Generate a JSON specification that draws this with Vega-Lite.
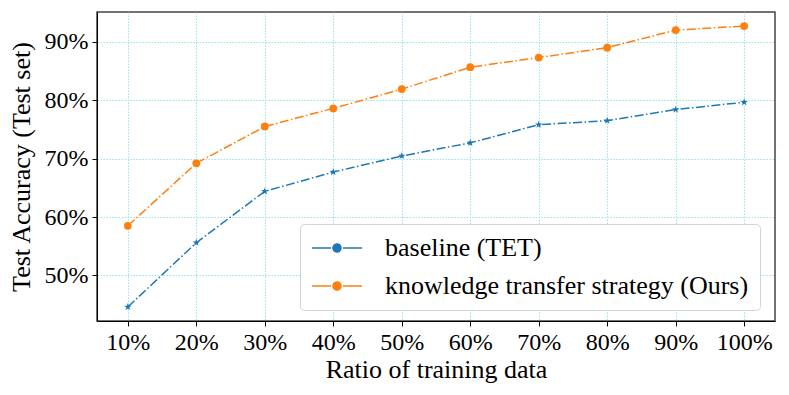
{
  "$schema": "https://vega.github.io/schema/vega-lite/v6.json",
  "width": 678,
  "height": 309,
  "autosize": {"type": "none"},
  "padding": {"left": 97, "top": 12, "right": 14, "bottom": 74},
  "config": {
    "font": "Liberation Serif",
    "view": {"stroke": "#444", "strokeWidth": 1.5},
    "axis": {
      "labelFontSize": 24,
      "titleFontSize": 26,
      "labelColor": "black",
      "titleColor": "black",
      "titleFontWeight": "normal",
      "domainColor": "black",
      "tickColor": "black",
      "tickSize": 5,
      "gridColor": "#8fe6ec",
      "gridDash": [1.5, 1.5]
    }
  },
  "data": {
    "values": [
      {"ratio": 0.1, "acc": 0.446, "series": "baseline (TET)"},
      {"ratio": 0.2, "acc": 0.556, "series": "baseline (TET)"},
      {"ratio": 0.3, "acc": 0.644, "series": "baseline (TET)"},
      {"ratio": 0.4, "acc": 0.677, "series": "baseline (TET)"},
      {"ratio": 0.5, "acc": 0.7045, "series": "baseline (TET)"},
      {"ratio": 0.6, "acc": 0.727, "series": "baseline (TET)"},
      {"ratio": 0.7, "acc": 0.758, "series": "baseline (TET)"},
      {"ratio": 0.8, "acc": 0.765, "series": "baseline (TET)"},
      {"ratio": 0.9, "acc": 0.784, "series": "baseline (TET)"},
      {"ratio": 1.0, "acc": 0.7965, "series": "baseline (TET)"},
      {"ratio": 0.1, "acc": 0.585, "series": "knowledge transfer strategy (Ours)"},
      {"ratio": 0.2, "acc": 0.692, "series": "knowledge transfer strategy (Ours)"},
      {"ratio": 0.3, "acc": 0.755, "series": "knowledge transfer strategy (Ours)"},
      {"ratio": 0.4, "acc": 0.786, "series": "knowledge transfer strategy (Ours)"},
      {"ratio": 0.5, "acc": 0.819, "series": "knowledge transfer strategy (Ours)"},
      {"ratio": 0.6, "acc": 0.8565, "series": "knowledge transfer strategy (Ours)"},
      {"ratio": 0.7, "acc": 0.873, "series": "knowledge transfer strategy (Ours)"},
      {"ratio": 0.8, "acc": 0.890, "series": "knowledge transfer strategy (Ours)"},
      {"ratio": 0.9, "acc": 0.920, "series": "knowledge transfer strategy (Ours)"},
      {"ratio": 1.0, "acc": 0.927, "series": "knowledge transfer strategy (Ours)"}
    ]
  },
  "layer": [
    {
      "mark": {"type": "line", "strokeWidth": 1.5, "strokeDash": [9, 2.5, 1.5, 2.5]},
      "encoding": {
        "x": {
          "field": "ratio",
          "type": "quantitative",
          "scale": {"domain": [0.055, 1.045], "nice": false, "zero": false},
          "axis": {
            "title": "Ratio of training data",
            "values": [0.1, 0.2, 0.3, 0.4, 0.5, 0.6, 0.7, 0.8, 0.9, 1.0],
            "format": ".0%",
            "labelPadding": 4,
            "titlePadding": 2
          }
        },
        "y": {
          "field": "acc",
          "type": "quantitative",
          "scale": {"domain": [0.422, 0.951], "nice": false, "zero": false},
          "axis": {
            "title": "Test Accuracy (Test set)",
            "values": [0.5, 0.6, 0.7, 0.8, 0.9],
            "format": ".0%",
            "labelPadding": 4,
            "titlePadding": 10
          }
        },
        "color": {
          "field": "series",
          "type": "nominal",
          "scale": {"domain": ["baseline (TET)", "knowledge transfer strategy (Ours)"], "range": ["#1f77b4", "#ff7f0e"]},
          "legend": {
            "title": null,
            "orient": "none",
            "legendX": 203,
            "legendY": 212,
            "padding": 11,
            "fillColor": "white",
            "strokeColor": "#d4d4d4",
            "cornerRadius": 4,
            "labelFontSize": 26,
            "labelColor": "black",
            "labelLimit": 600,
            "labelOffset": 48,
            "rowPadding": 12,
            "symbolType": "M-1,0H0.583M1.583,0H3.167M0.75,0A0.333,0.333 0 1,0 1.417,0A0.333,0.333 0 1,0 0.75,0Z",
            "symbolSize": 576,
            "symbolStrokeWidth": 1.5,
            "symbolDash": [1, 0],
            "symbolFillColor": "#ff7f0e",
            "encoding": {
              "symbols": {
                "update": {
                  "fill": {"scale": "color", "field": "value"},
                  "fillOpacity": {"value": 1},
                  "stroke": {"scale": "color", "field": "value"},
                  "strokeDash": {"value": [1, 0]},
                  "shape": {"signal": "datum.value == 'baseline (TET)' ? 'M-1,0H0.583M1.583,0H3.167M1.083,-0.4L1.177,-0.129L1.463,-0.124L1.235,0.049L1.318,0.324L1.083,0.16L0.848,0.324L0.931,0.049L0.703,-0.124L0.989,-0.129Z' : 'M-1,0H0.583M1.583,0H3.167M0.75,0A0.333,0.333 0 1,0 1.417,0A0.333,0.333 0 1,0 0.75,0Z'"}
                }
              }
            }
          }
        }
      }
    },
    {
      "transform": [{"filter": {"field": "series", "equal": "baseline (TET)"}}],
      "mark": {"type": "point", "filled": true, "opacity": 1, "size": 60, "shape": "M0,-1L0.235,-0.324L0.951,-0.309L0.380,0.124L0.588,0.809L0,0.4L-0.588,0.809L-0.380,0.124L-0.951,-0.309L-0.235,-0.324Z"},
      "encoding": {
        "x": {"field": "ratio", "type": "quantitative"},
        "y": {"field": "acc", "type": "quantitative"},
        "color": {"field": "series", "type": "nominal", "legend": null}
      }
    },
    {
      "transform": [{"filter": {"field": "series", "equal": "knowledge transfer strategy (Ours)"}}],
      "mark": {"type": "point", "filled": true, "opacity": 1, "size": 60, "shape": "circle"},
      "encoding": {
        "x": {"field": "ratio", "type": "quantitative"},
        "y": {"field": "acc", "type": "quantitative"},
        "color": {"field": "series", "type": "nominal", "legend": null}
      }
    }
  ]
}
